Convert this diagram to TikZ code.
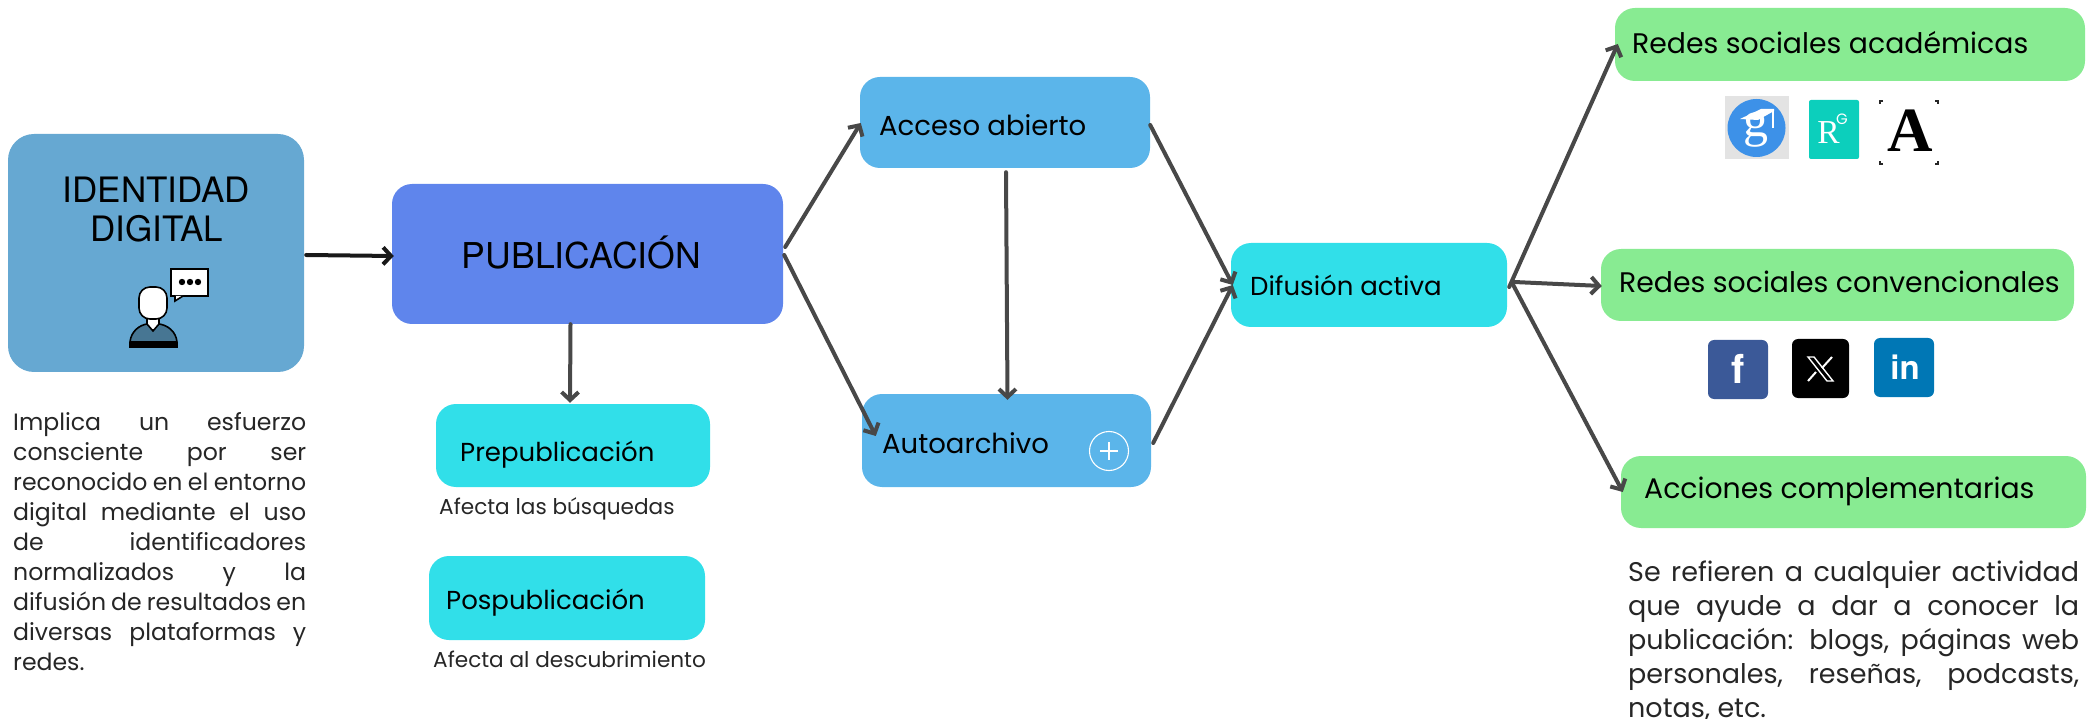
\documentclass[tikz,border=0pt]{standalone}
\usepackage{fontspec}
\setmainfont{Poppins}
\newfontfamily\headfont{TeX Gyre Heros}
\newfontfamily\serifbold{Liberation Serif}
\usetikzlibrary{arrows.meta,calc}
\definecolor{cId}{HTML}{66A8D2}
\definecolor{cPub}{HTML}{5F85EC}
\definecolor{cBlue}{HTML}{5BB5EA}
\definecolor{cTurq}{HTML}{31DFE9}
\definecolor{cGreen}{HTML}{88EB92}
\definecolor{cArrow}{HTML}{484848}
\definecolor{cRG}{HTML}{0CCFBC}
\definecolor{cGS}{HTML}{3D91E8}
\definecolor{cFB}{HTML}{3B5998}
\definecolor{cLI}{HTML}{0077B5}
\newcommand{\fs}[2]{\fontsize{#1}{#2}\selectfont}
\newcommand{\jline}[2]{\makebox[#1][s]{#2}}
\tikzset{
 box/.style={rectangle,rounded corners=20,inner sep=0,minimum width=#1},
 lab/.style={anchor=west,inner sep=0,text=black,font=\fs{26}{30}},
 bigl/.style={lab,font=\fs{27.5}{32}},
 capt/.style={anchor=west,inner sep=0,text=black!85,font=\fs{21.6}{26}},
 arr/.style={draw=cArrow,line width=4,line cap=round,-{Straight Barb[length=8,width=17,line width=4]}},
}
\begin{document}
\begin{tikzpicture}[x=1pt,y=-1pt]
\useasboundingbox (0,0) rectangle (2089,719);
% boxes
\node[box=296,fill=cId,minimum height=238,rounded corners=26] (id) at (156,253) {};
\node[box=391,fill=cPub,minimum height=140] (pub) at (587.5,254) {};
\node[box=290,fill=cBlue,minimum height=91] (acc) at (1005,122.5) {};
\node[box=289,fill=cBlue,minimum height=93] (auto) at (1006.5,440.5) {};
\node[box=276,fill=cTurq,minimum height=84] (dif) at (1369,285) {};
\node[box=274,fill=cTurq,minimum height=83] (pre) at (573,445.5) {};
\node[box=276,fill=cTurq,minimum height=84] (pos) at (567,598) {};
\node[box=470,fill=cGreen,minimum height=73] (acad) at (1850,44.5) {};
\node[box=473,fill=cGreen,minimum height=72] (conv) at (1837.5,285) {};
\node[box=465,fill=cGreen,minimum height=72] (comp) at (1853.5,492) {};
% labels
\node[anchor=center,inner sep=0,align=center,font=\headfont\fs{35}{38.5}] (idl) at (156.5,209.5) {IDENTIDAD\\DIGITAL};
\node[anchor=center,inner sep=0,font=\headfont\fs{35.6}{40}] (publ) at (581.5,253) {PUBLICACIÓN};
\node[bigl] (l1) at (879,125.5) {Acceso abierto};
\node[bigl] (l2) at (882,443) {Autoarchivo};
\node[lab] (l3) at (1250,285) {Difusión activa};
\node[lab] (l4) at (460,454.5) {Prepublicación};
\node[lab] (l5) at (446,602.5) {Pospublicación};
\node[lab,font=\fs{28.3}{32}] (l6) at (1632,43) {Redes sociales académicas};
\node[lab,font=\fs{28.3}{32}] (l7) at (1619,282) {Redes sociales convencionales};
\node[lab,font=\fs{28.3}{32}] (l8) at (1644,491.5) {Acciones complementarias};
\node[capt] (c1) at (439,509) {Afecta las búsquedas};
\node[capt] (c2) at (433,659) {Afecta al descubrimiento};
% paragraphs
\node[anchor=north west,inner sep=0,align=left,text=black!85,font=\fs{23.6}{30}] (par1) at (13,412) {%
\jline{293pt}{Implica un esfuerzo}\\
\jline{293pt}{consciente por ser}\\
\jline{293pt}{reconocido en el entorno}\\
\jline{293pt}{digital mediante el uso}\\
\jline{293pt}{de identificadores}\\
\jline{293pt}{normalizados y la}\\
\jline{293pt}{difusión de resultados en}\\
\jline{293pt}{diversas plataformas y}\\
redes.};
\node[anchor=north west,inner sep=0,align=left,text=black!85,font=\fs{27}{34}] (par2) at (1628,560.5) {%
\jline{451pt}{Se refieren a cualquier actividad}\\
\jline{451pt}{que ayude a dar a conocer la}\\
\jline{451pt}{publicación: blogs, páginas web}\\
\jline{451pt}{personales, reseñas, podcasts,}\\
notas, etc.};
% connectors
\draw[arr,draw=black!90] ([shift={(2,2)}]id.east) -- ([shift={(2,2)}]pub.west);
\draw[arr] ([shift={(2,-7)}]pub.east) -- ([shift={(1,0.5)}]acc.west);
\draw[arr] ([shift={(1,1)}]pub.east) -- ([shift={(14,-4.5)}]auto.west);
\draw[arr] ([shift={(-17,0)}]pub.south) -- ([shift={(-3,-1)}]pre.north);
\draw[arr] ([shift={(1,4)}]acc.south) -- ([shift={(1,6)}]auto.north);
\draw[arr] ([shift={(0,2.5)}]acc.east) -- ([shift={(2,0)}]dif.west);
\draw[arr] ([shift={(2,2.5)}]auto.east) -- ([shift={(2,0)}]dif.west);
\draw[arr] ([shift={(2,2)}]dif.east) -- ([shift={(3,-0.5)}]acad.west);
\draw[arr] ([shift={(7,-3)}]dif.east) -- ([shift={(1,1)}]conv.west);
\draw[arr] ([shift={(6,0)}]dif.east) -- ([shift={(2,0)}]comp.west);
% person icon
\draw[fill=white,line width=1.6] (171,269) rectangle (208,296);
\draw[fill=white,line width=1.6] (175,296) -- (175,301) -- (183,296);
\fill (182,282) circle (3.2) (190,282) circle (3.2) (198,282) circle (3.2);
\fill[white,draw=black,line width=1.2] (147,316) rectangle (159,330);
\draw[fill=white,line width=1.6,rounded corners=11] (139,287) rectangle (167,319);
\draw[fill=cId!70!black,line width=1.6] (130,342) .. controls (131,331) and (140,325) .. (147,324) -- (153,331) -- (159,324) .. controls (167,325) and (176,331) .. (177,342) -- cycle;
\fill (129,342) rectangle (177.5,348);
% academic logos
\fill[black!11] (1725,96) rectangle (1789,159);
\fill[cGS] (1756.5,128) circle (29);
\node[anchor=base,inner sep=0,text=white,font=\serifbold\fs{50}{50}] (gs) at (1756,137) {g};
\fill[white] (1740,119) -- (1761,109) -- (1774,109) -- (1774,111) -- (1758,120) -- cycle;
\fill[white] (1771.5,110) rectangle (1774,128);
\fill[cRG,rounded corners=2] (1809,100) rectangle (1859,159);
\node[anchor=base,inner sep=0,text=white,font=\serifbold\fs{33.5}{34}] (rgr) at (1828.5,144) {R};
\node[anchor=base,inner sep=0,text=white,font=\fs{15}{15}] (rgg) at (1842,124.5) {G};
\node[inner sep=0,text=black,font=\serifbold\bfseries\fs{63}{63}] (aca) at (1910,131) {A};
\foreach \x/\y/\dx/\dy in {1880/101/1/1,1938/101/-1/1,1880/164/1/-1,1938/164/-1/-1}
  \draw[line width=1.2,black!85] (\x+3*\dx,\y) -- (\x,\y) -- (\x,\y+3*\dy);
% social logos
\fill[cFB,rounded corners=6] (1708,340) rectangle (1768,399);
\node[anchor=base,inner sep=0,text=white,font=\headfont\bfseries\fs{40}{40}] (fb) at (1738,384) {f};
\fill[black,rounded corners=6] (1792,339) rectangle (1849,398);
\draw[white,line width=1.4] (1808,357) -- (1814,357) -- (1833,381) -- (1827,381) -- cycle;
\draw[white,line width=2] (1832,357) -- (1822,368) (1816,372) -- (1808,381);
\fill[cLI,rounded corners=6] (1874,338) rectangle (1934,397);
\node[anchor=base,inner sep=0,text=white,font=\headfont\bfseries\fs{33}{33}] (li) at (1905,379) {in};
% plus badge
\draw[white,line width=1.1] (1109,451) circle (19.5);
\draw[white,line width=1.1] (1100,451) -- (1118,451) (1109,442) -- (1109,460);
\end{tikzpicture}
\end{document}
